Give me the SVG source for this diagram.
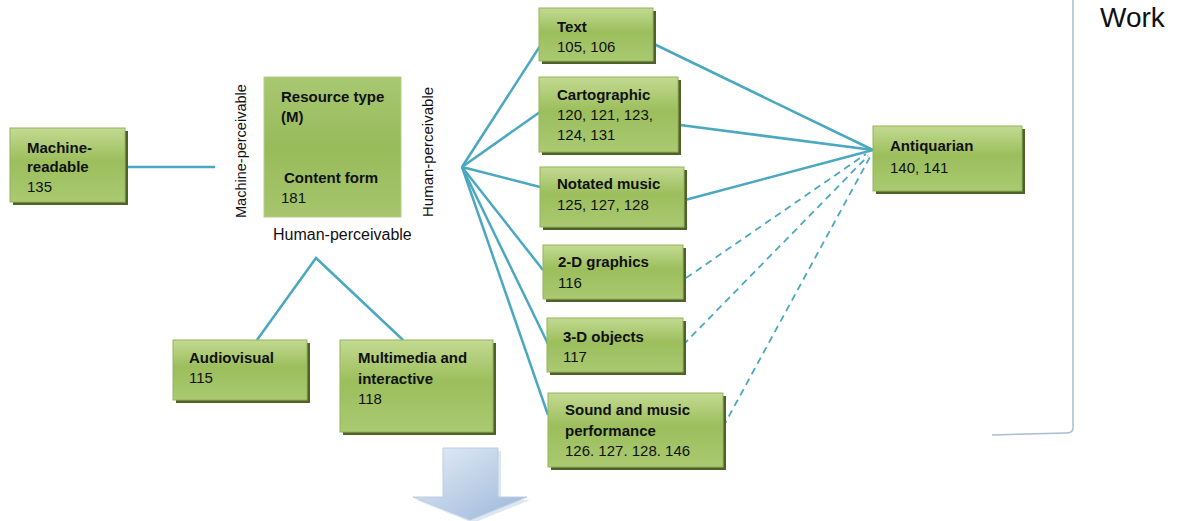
<svg xmlns="http://www.w3.org/2000/svg" width="1183" height="521" viewBox="0 0 1183 521">
<defs>
<linearGradient id="g" x1="0" y1="0" x2="0" y2="1">
<stop offset="0" stop-color="#c3da92"/>
<stop offset="0.45" stop-color="#9cbe5c"/>
<stop offset="1" stop-color="#aac971"/>
</linearGradient>
<linearGradient id="g2" x1="0" y1="0" x2="0" y2="1">
<stop offset="0" stop-color="#a8c772"/>
<stop offset="0.5" stop-color="#98bb5a"/>
<stop offset="1" stop-color="#a6c56d"/>
</linearGradient>
<linearGradient id="ab" x1="0" y1="0" x2="1" y2="1">
<stop offset="0" stop-color="#e6eef8"/>
<stop offset="1" stop-color="#9ab6d8"/>
</linearGradient>
</defs>
<style>
.sh{fill:#4f6328}
.bx{fill:url(#g);stroke:#94b35c;stroke-width:1}
.t{font-family:"Liberation Sans",Arial,sans-serif;font-size:15px;fill:#111}
.b{font-weight:bold}
.lbl{font-family:"Liberation Sans",Arial,sans-serif;fill:#111}
.c{stroke:#4aa8c0;stroke-width:2.5;fill:none}
.d{stroke:#4aa8c0;stroke-width:1.8;fill:none;stroke-dasharray:7 5}
</style>
<g id="connectors">
<line class="c" x1="125" y1="167" x2="215" y2="167"/>
<polyline class="c" points="257,340 316,258 403,340"/>
<line class="c" x1="462" y1="167" x2="542" y2="43"/>
<line class="c" x1="462" y1="167" x2="540" y2="112"/>
<line class="c" x1="462" y1="167" x2="540" y2="187"/>
<line class="c" x1="462" y1="167" x2="543" y2="270"/>
<line class="c" x1="462" y1="167" x2="550" y2="348"/>
<line class="c" x1="462" y1="167" x2="548" y2="415"/>
<line class="c" x1="654" y1="44" x2="873" y2="150"/>
<line class="c" x1="680" y1="125" x2="873" y2="150"/>
<line class="c" x1="685" y1="200" x2="873" y2="150"/>
<line class="d" x1="686" y1="278" x2="866" y2="154"/>
<line class="d" x1="683" y1="345" x2="868" y2="156"/>
<line class="d" x1="723" y1="427" x2="870" y2="157"/>
</g>
<g id="machine-readable">
<rect class="sh" x="13" y="131" width="115" height="74"/>
<rect class="bx" x="10" y="128" width="115" height="74"/>
<text class="t b" x="27" y="153">Machine-</text>
<text class="t b" x="27" y="172">readable</text>
<text class="t" x="27" y="192">135</text>
</g>
<g id="resource-type">
<rect x="264" y="77" width="137" height="140" fill="url(#g2)" stroke="#b5cf86" stroke-width="1"/>
<text class="t b" x="281" y="102">Resource type</text>
<text class="t b" x="281" y="122">(M)</text>
<text class="t b" x="284" y="183">Content form</text>
<text class="t" x="281" y="203">181</text>
<text class="lbl" font-size="14.5" transform="translate(246,218) rotate(-90)">Machine-perceivable</text>
<text class="lbl" font-size="15" transform="translate(433,217) rotate(-90)">Human-perceivable</text>
<text class="lbl" font-size="16" x="273" y="240">Human-perceivable</text>
</g>
<g id="audiovisual">
<rect class="sh" x="176" y="343" width="134" height="60"/>
<rect class="bx" x="173" y="340" width="134" height="60"/>
<text class="t b" x="189" y="363">Audiovisual</text>
<text class="t" x="189" y="383">115</text>
</g>
<g id="multimedia">
<rect class="sh" x="343" y="343" width="153" height="92"/>
<rect class="bx" x="340" y="340" width="153" height="92"/>
<text class="t b" x="358" y="363">Multimedia and</text>
<text class="t b" x="358" y="384">interactive</text>
<text class="t" x="358" y="404">118</text>
</g>
<g id="text">
<rect class="sh" x="542" y="11" width="114" height="53"/>
<rect class="bx" x="539" y="8" width="114" height="53"/>
<text class="t b" x="557" y="32">Text</text>
<text class="t" x="557" y="52">105, 106</text>
</g>
<g id="cartographic">
<rect class="sh" x="542" y="80" width="139" height="75"/>
<rect class="bx" x="539" y="77" width="139" height="75"/>
<text class="t b" x="557" y="100">Cartographic</text>
<text class="t" x="557" y="120">120, 121, 123,</text>
<text class="t" x="557" y="140">124, 131</text>
</g>
<g id="notated-music">
<rect class="sh" x="543" y="170" width="144" height="60"/>
<rect class="bx" x="540" y="167" width="144" height="60"/>
<text class="t b" x="557" y="189">Notated music</text>
<text class="t" x="557" y="210">125, 127, 128</text>
</g>
<g id="graphics-2d">
<rect class="sh" x="546" y="248" width="140" height="54"/>
<rect class="bx" x="543" y="245" width="140" height="54"/>
<text class="t b" x="558" y="267">2-D graphics</text>
<text class="t" x="558" y="288">116</text>
</g>
<g id="objects-3d">
<rect class="sh" x="550" y="321" width="136" height="54"/>
<rect class="bx" x="547" y="318" width="136" height="54"/>
<text class="t b" x="563" y="342">3-D objects</text>
<text class="t" x="563" y="362">117</text>
</g>
<g id="sound">
<rect class="sh" x="551" y="396" width="175" height="74"/>
<rect class="bx" x="548" y="393" width="175" height="74"/>
<text class="t b" x="565" y="415">Sound and music</text>
<text class="t b" x="565" y="436">performance</text>
<text class="t" x="565" y="456">126. 127. 128. 146</text>
</g>
<g id="antiquarian">
<rect class="sh" x="876" y="129" width="149" height="65"/>
<rect class="bx" x="873" y="126" width="149" height="65"/>
<text class="t b" x="890" y="151">Antiquarian</text>
<text class="t" x="890" y="173">140, 141</text>
</g>
<g id="work">
<path d="M1073,0 V428 Q1073,433 1066,433 Q1030,434 992,435" fill="none" stroke="#a9bdd3" stroke-width="1.5"/>
<text x="1100" y="27" font-family="Liberation Sans, Arial, sans-serif" font-size="28" fill="#111">Work</text>
</g>
<g id="arrow">
<path d="M446,451 H501 V500 H530 L473,523 L416,500 H446 Z" fill="#c8d5e6" opacity="0.6"/>
<path d="M443,448 H498 V497 H527 L470,520 L413,497 H443 Z" fill="url(#ab)" stroke="#bccde4" stroke-width="1"/>
</g>
</svg>
